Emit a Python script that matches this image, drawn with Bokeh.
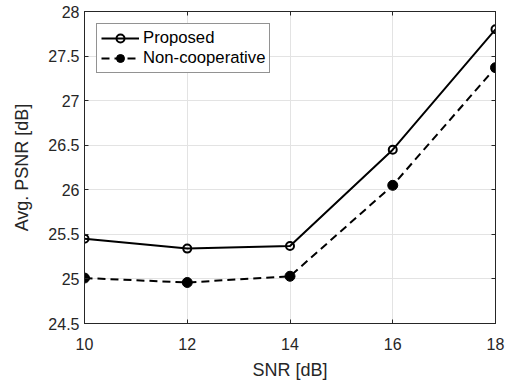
from bokeh.plotting import figure
from bokeh.models import Range1d, LinearAxis, Legend, LegendItem, FixedTicker
from bokeh.embed import file_html
from bokeh.resources import INLINE

snr = [10, 12, 14, 16, 18]
proposed = [25.45, 25.34, 25.37, 26.45, 27.80]
noncoop = [25.01, 24.96, 25.03, 26.05, 27.37]
x_ticks = [10, 12, 14, 16, 18]
y_ticks = [24.5, 25, 25.5, 26, 26.5, 27, 27.5, 28]

FONT = "Liberation Sans"
AX = "#262626"

p = figure(width=511, height=385, output_backend="svg", toolbar_location=None,
           x_range=Range1d(10, 18), y_range=Range1d(24.5, 28),
           min_border_left=84, min_border_right=16, min_border_top=11, min_border_bottom=62)
p.outline_line_color = AX
p.outline_line_width = 1
p.background_fill_color = "white"

for ax in [p.xaxis[0], p.yaxis[0]]:
    ax.axis_line_color = AX
    ax.major_tick_line_color = AX
    ax.major_tick_in = 4
    ax.major_tick_out = 0
    ax.minor_tick_line_color = None
    ax.major_label_text_font = FONT
    ax.major_label_text_font_size = "16px"
    ax.major_label_text_color = AX
    ax.axis_label_text_font = FONT
    ax.axis_label_text_font_size = "18px"
    ax.axis_label_text_font_style = "normal"
    ax.axis_label_text_color = AX

p.xaxis[0].ticker = FixedTicker(ticks=x_ticks)
p.yaxis[0].ticker = FixedTicker(ticks=y_ticks)
p.xaxis[0].axis_label = "SNR [dB]"
p.yaxis[0].axis_label = "Avg. PSNR [dB]"
p.xaxis[0].major_label_standoff = 14
p.xaxis[0].axis_label_standoff = 7
p.yaxis[0].major_label_standoff = 5
p.yaxis[0].axis_label_standoff = 13

for loc, tk in [("right", y_ticks), ("above", x_ticks)]:
    a = LinearAxis(ticker=FixedTicker(ticks=tk),
                   major_label_overrides={t: "" for t in tk},
                   axis_line_color=AX, major_tick_line_color=AX, major_tick_in=4,
                   major_tick_out=0, minor_tick_line_color=None, major_label_standoff=0)
    p.add_layout(a, loc)

p.xgrid.ticker = FixedTicker(ticks=x_ticks)
p.ygrid.ticker = FixedTicker(ticks=y_ticks)
p.grid.grid_line_color = "#e3e3e3"
p.grid.grid_line_width = 1

l1 = p.line(snr, proposed, line_color="black", line_width=2)
m1 = p.scatter(snr, proposed, marker="circle", size=8, fill_color=None,
               line_color="black", line_width=2)
l2 = p.line(snr, noncoop, line_color="black", line_width=2, line_dash="8 5")
m2 = p.scatter(snr, noncoop, marker="circle", size=10, fill_color="black",
               line_color="black")

legend = Legend(items=[LegendItem(label="Proposed", renderers=[l1, m1]),
                       LegendItem(label="Non-cooperative", renderers=[l2, m2])],
                location="top_left")
legend.label_text_font = FONT
legend.label_text_font_size = "16.7px"
legend.label_text_color = "black"
legend.border_line_color = AX
legend.border_line_width = 1
legend.background_fill_alpha = 1
legend.margin = 12
legend.padding = 4
legend.spacing = 0
legend.glyph_width = 38
legend.label_standoff = 4
legend.label_height = 20
legend.glyph_height = 20
p.add_layout(legend, "center")

open("out.html", "w").write(file_html(p, INLINE))
